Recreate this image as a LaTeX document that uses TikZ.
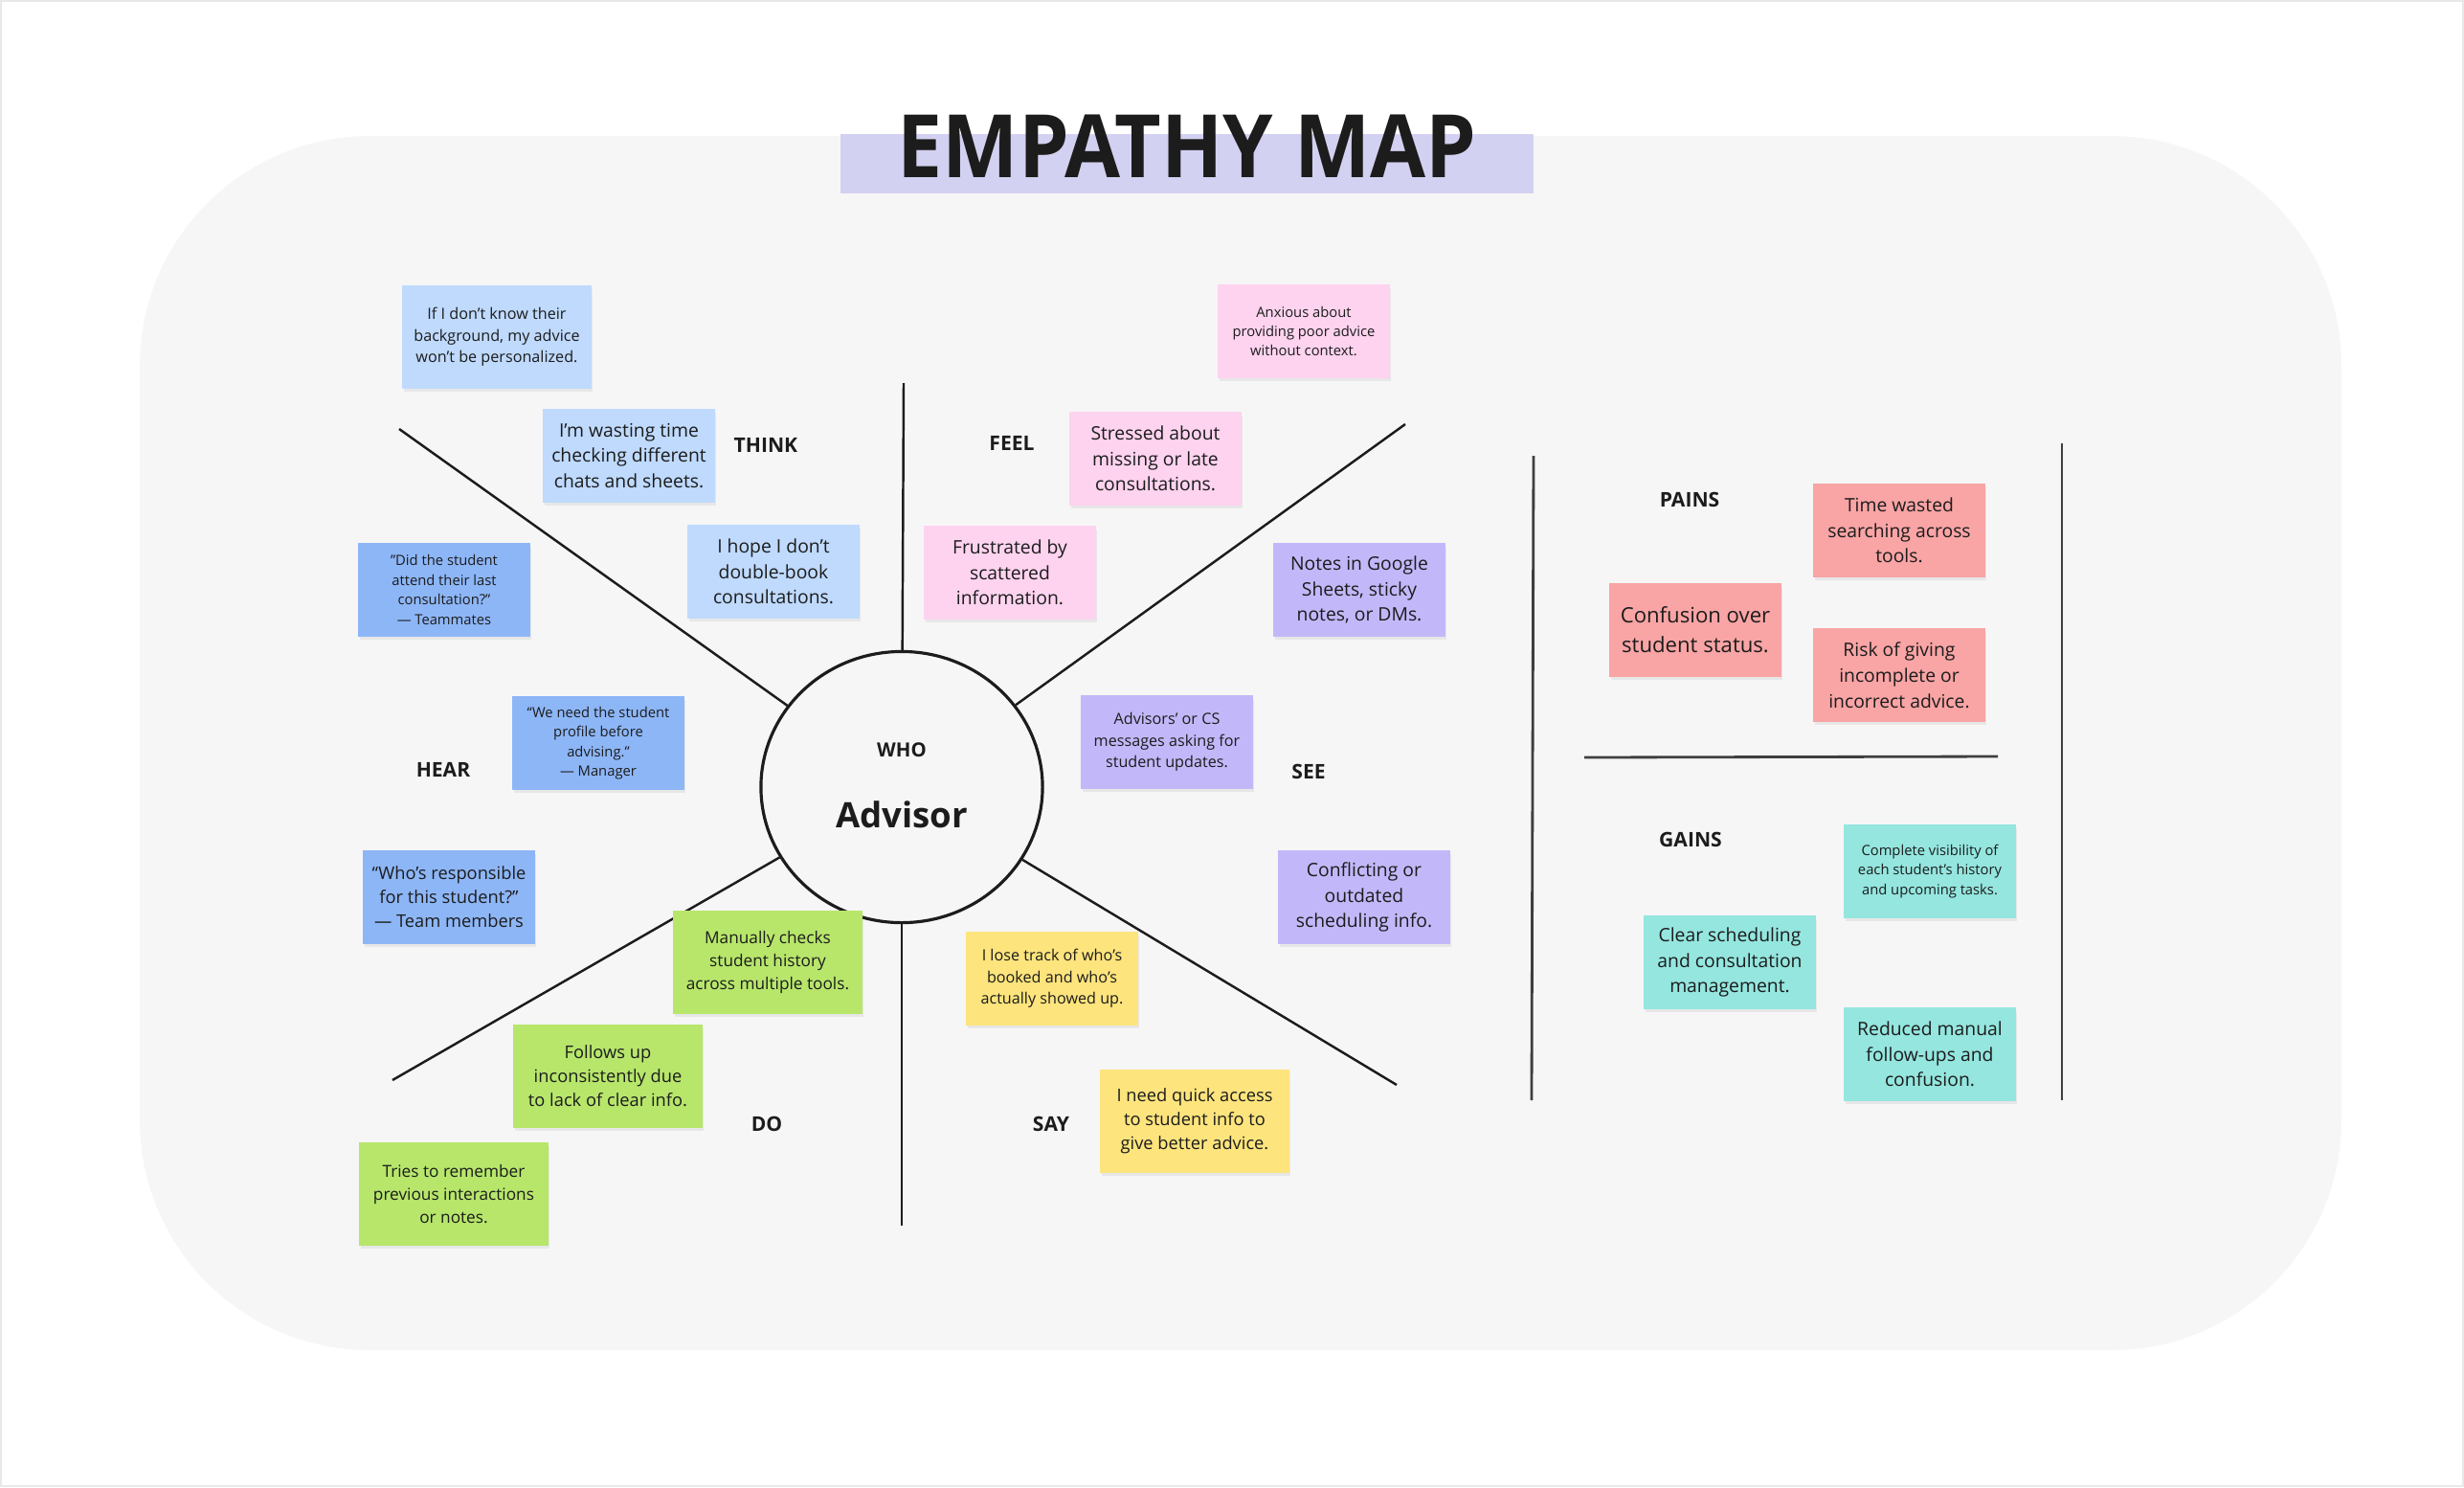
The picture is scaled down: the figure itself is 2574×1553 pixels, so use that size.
\documentclass[tikz,border=0pt]{standalone}
\usepackage{fontspec}
\setmainfont{Open Sans}
\usepackage{xcolor}
\definecolor{ink}{HTML}{1C1C1C}
\definecolor{canvas}{HTML}{F6F6F6}
\definecolor{frame}{HTML}{E8E8E8}
\definecolor{band}{HTML}{D3D1F1}
\definecolor{thinkc}{HTML}{BFDAFD}
\definecolor{hearc}{HTML}{8DB6F7}
\definecolor{feelc}{HTML}{FDD3EF}
\definecolor{seec}{HTML}{C2B8F9}
\definecolor{doc}{HTML}{B7E66B}
\definecolor{sayc}{HTML}{FDE47D}
\definecolor{painc}{HTML}{F9A4A5}
\definecolor{gainc}{HTML}{94E6DF}
\usetikzlibrary{positioning,shapes.geometric,shadows}

\begin{document}
\begin{tikzpicture}[
  x=0.01cm,y=-0.01cm,
  sticky/.style={rectangle,inner sep=0pt,align=center,text=ink,minimum width=1.79cm,minimum height=0.97cm,
    drop shadow={shadow xshift=0.4pt,shadow yshift=-0.9pt,opacity=0.12}},
  big/.style={minimum width=1.97cm,minimum height=1.07cm},
  xs/.style={font=\fontsize{4.2}{5.8}\selectfont},
  sm/.style={font=\fontsize{4.6}{6.4}\selectfont},
  smm/.style={font=\fontsize{4.9}{6.8}\selectfont},
  md/.style={font=\fontsize{5.2}{7.1}\selectfont},
  mdd/.style={font=\fontsize{5.5}{7.6}\selectfont},
  lg/.style={font=\fontsize{6.3}{8.8}\selectfont},
  lbl/.style={font=\fontsize{6}{7}\selectfont\bfseries,text=ink,inner sep=0pt},
  spoke/.style={draw=ink,line width=0.7pt},
  divider/.style={draw=ink!85,line width=0.8pt},
]
\useasboundingbox (0,0) rectangle (2574,1553);
\draw[frame,line width=0.5pt] (1,1) rectangle (2573,1552);
% board
\fill[canvas,rounded corners=2.4cm] (146,142) rectangle (2446,1410);

% title
\node[fill=band,minimum width=7.23cm,minimum height=0.62cm,inner sep=0pt] (band) at (1240,171) {};
\node[font=\fontsize{26}{28}\selectfont\bfseries,text=ink,inner sep=0pt] (title) at (1240,153) {\scalebox{0.92}[1]{EMPATHY MAP}};

% who
\node[ellipse,draw=ink,line width=0.9pt,fill=canvas,minimum width=2.94cm,minimum height=2.83cm,inner sep=0pt] (who) at (942,822) {};
\node[lbl,font=\fontsize{5.8}{7}\selectfont\bfseries] (wholbl) at (942,783) {WHO};
\node[font=\fontsize{10.4}{12}\selectfont\bfseries,text=ink,inner sep=0pt] (advisor) at (942,851) {Advisor};

% spokes
\coordinate (upend) at (944,400);
\coordinate (downend) at (942,1280);
\coordinate (ulend) at (417,448);
\coordinate (urend) at (1468,443);
\coordinate (llend) at (410,1128);
\coordinate (lrend) at (1459,1133);
\foreach \e in {upend,downend,ulend,urend,llend,lrend}
  \draw[spoke] (who) -- (\e);

% pains / gains frame
\coordinate (pgl1) at (1602,476);
\coordinate (pgl2) at (1600,1149);
\coordinate (pgr1) at (2154,463);
\coordinate (pgr2) at (2154,1149);
\coordinate (pgm1) at (1655,791);
\coordinate (pgm2) at (2087,790);
\draw[divider] (pgl1) -- (pgl2);
\draw[divider] (pgr1) -- (pgr2);
\draw[divider] (pgm1) -- (pgm2);

% section labels
\node[lbl] (think) at (800,465) {THINK};
\node[lbl] (feel) at (1057,463) {FEEL};
\node[lbl] (hear) at (463,804) {HEAR};
\node[lbl] (see) at (1367,806) {SEE};
\node[lbl] (dolbl) at (801,1174) {DO};
\node[lbl] (say) at (1098,1174) {SAY};
\node[lbl] (pains) at (1765,522) {PAINS};
\node[lbl] (gains) at (1766,877) {GAINS};

% think
\node[sticky,big,fill=thinkc,sm] (th1) at (519,352) {If I don’t know their\\background, my advice\\won’t be personalized.};
\node[sticky,fill=thinkc,mdd] (th2) at (657,476) {I’m wasting time\\checking different\\chats and sheets.};
\node[sticky,fill=thinkc,mdd] (th3) at (808,597) {I hope I don’t\\double-book\\consultations.};

% hear
\node[sticky,fill=hearc,xs] (he1) at (464,616) {\symbol{34}Did the student\\attend their last\\consultation?”\\— Teammates};
\node[sticky,fill=hearc,xs] (he2) at (625,776) {“We need the student\\profile before\\advising.”\\— Manager};
\node[sticky,fill=hearc,md] (he3) at (469,937) {“Who’s responsible\\for this student?”\\— Team members};

% feel
\node[sticky,fill=feelc,xs] (fe1) at (1362,346) {Anxious about\\providing poor advice\\without context.};
\node[sticky,fill=feelc,mdd] (fe2) at (1207,479) {Stressed about\\missing or late\\consultations.};
\node[sticky,fill=feelc,mdd] (fe3) at (1055,598) {Frustrated by\\scattered\\information.};

% see
\node[sticky,fill=seec,mdd] (se1) at (1420,616) {Notes in Google\\Sheets, sticky\\notes, or DMs.};
\node[sticky,fill=seec,sm] (se2) at (1219,775) {Advisors’ or CS\\messages asking for\\student updates.};
\node[sticky,fill=seec,mdd] (se3) at (1425,937) {Conflicting or\\outdated\\scheduling info.};

% do
\node[sticky,big,fill=doc,smm] (do1) at (802,1005) {Manually checks\\student history\\across multiple tools.};
\node[sticky,big,fill=doc,md] (do2) at (635,1124) {Follows up\\inconsistently due\\to lack of clear info.};
\node[sticky,big,fill=doc,smm] (do3) at (474,1247) {Tries to remember\\previous interactions\\or notes.};

% say
\node[sticky,fill=sayc,sm] (sa1) at (1099,1022) {I lose track of who’s\\booked and who’s\\actually showed up.};
\node[sticky,big,fill=sayc,md] (sa2) at (1248,1171) {I need quick access\\to student info to\\give better advice.};

% pains
\node[sticky,fill=painc,mdd] (pa1) at (1984,554) {Time wasted\\searching across\\tools.};
\node[sticky,fill=painc,lg] (pa2) at (1771,658) {Confusion over\\student status.};
\node[sticky,fill=painc,mdd] (pa3) at (1984,705) {Risk of giving\\incomplete or\\incorrect advice.};

% gains
\node[sticky,fill=gainc,xs] (ga1) at (2016,910) {Complete visibility of\\each student’s history\\and upcoming tasks.};
\node[sticky,fill=gainc,mdd] (ga2) at (1807,1005) {Clear scheduling\\and consultation\\management.};
\node[sticky,fill=gainc,mdd] (ga3) at (2016,1101) {Reduced manual\\follow-ups and\\confusion.};
\end{tikzpicture}
\end{document}
